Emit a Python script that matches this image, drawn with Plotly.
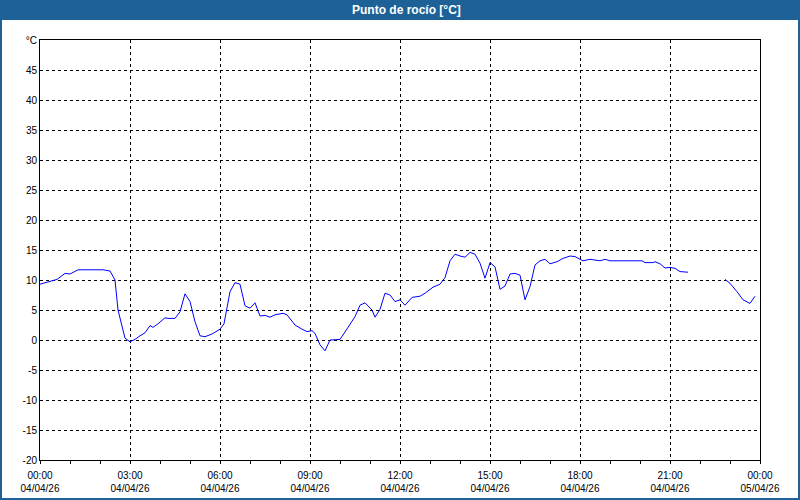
import plotly.graph_objects as go
from datetime import datetime, timedelta

# time of each reading, minutes after 04/04/26 00:00 (1310 = data gap)
minutes = [
    0, 16, 34, 50, 60, 76, 126, 140, 150, 156,
    164, 170, 180, 190, 200, 210, 220, 226, 236, 250,
    256, 270, 280, 290, 300, 310, 320, 330, 344, 360,
    368, 380, 390, 400, 410, 420, 430, 440, 450, 460,
    470, 486, 494, 510, 524, 534, 544, 550, 560, 570,
    580, 600, 616, 630, 640, 650, 664, 670, 680, 690,
    700, 710, 720, 730, 744, 760, 770, 786, 800, 810,
    820, 830, 840, 850, 860, 870, 880, 890, 900, 910,
    920, 930, 940, 950, 960, 970, 980, 990, 1000, 1010,
    1020, 1034, 1046, 1060, 1070, 1086, 1100, 1120, 1130, 1140,
    1204, 1210, 1226, 1230, 1240, 1250, 1260, 1270, 1280, 1296,
    1310, 1370, 1380, 1394, 1406, 1420, 1430,
]
dew_point = [
    9.3, 9.7, 10.1, 11.1, 11.0, 11.7, 11.7, 11.5, 10.0, 5.0,
    2.0, 0.3, -0.3, 0.1, 0.7, 1.2, 2.4, 2.1, 2.7, 3.7,
    3.6, 3.6, 4.7, 7.7, 6.4, 3.05, 0.7, 0.55, 1.0, 1.8,
    2.7, 8.05, 9.55, 9.3, 5.7, 5.3, 6.2, 4.0, 4.1, 3.8,
    4.2, 4.45, 4.2, 2.5, 1.8, 1.4, 1.55, 1.1, -0.8, -1.8,
    0.0, 0.1, 2.1, 3.9, 5.8, 6.2, 5.0, 3.8, 5.1, 7.8,
    7.5, 6.4, 6.7, 5.8, 7.1, 7.3, 7.8, 8.8, 9.3, 10.4,
    13.2, 14.3, 14.0, 13.8, 14.6, 14.3, 12.8, 10.3, 12.9, 12.2,
    8.45, 9.0, 11.0, 11.1, 10.8, 6.7, 8.9, 12.5, 13.2, 13.45,
    12.7, 13.05, 13.6, 14.0, 13.9, 13.2, 13.45, 13.2, 13.45, 13.2,
    13.2, 12.9, 12.9, 13.05, 12.7, 12.0, 12.1, 11.95, 11.4, 11.3,
    None, 10.1, 9.45, 8.05, 6.7, 6.1, 7.3,
]

y_ticks = [-20, -15, -10, -5, 0, 5, 10, 15, 20, 25, 30, 35, 40, 45, 50]
y_ticktext = ["-20", "-15", "-10", "-5", "0", "5", "10", "15", "20", "25", "30", "35",
              "40", "45", "°C"]

title_text = "Punto de rocío [°C]"

start = datetime(2026, 4, 4, 0, 0)
xs = [start + timedelta(minutes=m) for m in minutes]

x_ticks = [start + timedelta(hours=h) for h in range(0, 25, 3)]
x_ticktext = [t.strftime("%H:%M") + "<br>" + t.strftime("%d/%m/%y") for t in x_ticks]

BLUE_BAR = "#1e6196"
FONT = "Liberation Sans, Arial"

fig = go.Figure()
fig.add_trace(go.Scatter(x=xs, y=dew_point, mode="lines",
                         line=dict(color="#0000ff", width=1),
                         connectgaps=False, hoverinfo="skip"))

# pixel -> paper helpers (plot area 40..760 x, 40..460 y)
def px(x):
    return (x - 40) / 720.0

def py(y):
    return (460 - y) / 420.0

fig.update_layout(
    width=800, height=500, autosize=False,
    margin=dict(l=40, r=40, t=40, b=40, autoexpand=False),
    paper_bgcolor="white", plot_bgcolor="white",
    showlegend=False,
    font=dict(family=FONT, size=10, color="black"),
    xaxis=dict(
        range=[start, start + timedelta(hours=24)],
        tickvals=x_ticks, ticktext=x_ticktext,
        showgrid=True, gridcolor="black", griddash="3px,3px", gridwidth=1,
        showline=True, linecolor="black", linewidth=1, mirror=True,
        ticks="outside", ticklen=3, tickcolor="black",
        minor=dict(dtick=3600000, ticks="outside", ticklen=3, tickcolor="black",
                   showgrid=False),
        zeroline=False, fixedrange=True, ticklabelstandoff=3,
        tickfont=dict(family=FONT, size=10, color="black"),
    ),
    yaxis=dict(
        range=[-20, 50],
        tickvals=y_ticks, ticktext=y_ticktext,
        showgrid=True, gridcolor="black", griddash="3px,3px", gridwidth=1,
        showline=True, linecolor="black", linewidth=1, mirror=True,
        ticks="", zeroline=False, fixedrange=True,
        tickfont=dict(family=FONT, size=10, color="black"),
    ),
    shapes=[
        dict(type="rect", xref="paper", yref="paper",
             x0=px(0), x1=px(800), y0=py(20), y1=py(0),
             fillcolor=BLUE_BAR, line=dict(width=0), layer="above"),
        dict(type="rect", xref="paper", yref="paper",
             x0=px(1), x1=px(799), y0=py(499), y1=py(1),
             fillcolor="rgba(0,0,0,0)", line=dict(color=BLUE_BAR, width=2),
             layer="above"),
    ],
    annotations=[
        dict(text="<b>" + title_text + "</b>", xref="paper", yref="paper",
             x=px(406), y=py(10), xanchor="center", yanchor="middle",
             showarrow=False,
             font=dict(family="Liberation Sans, Arial", size=12, color="white")),
    ],
)

fig.write_html("out.html", config={"responsive": False, "displayModeBar": False},
               post_script="document.body.style.margin='0px';"
                           "document.body.style.overflow='hidden';")
